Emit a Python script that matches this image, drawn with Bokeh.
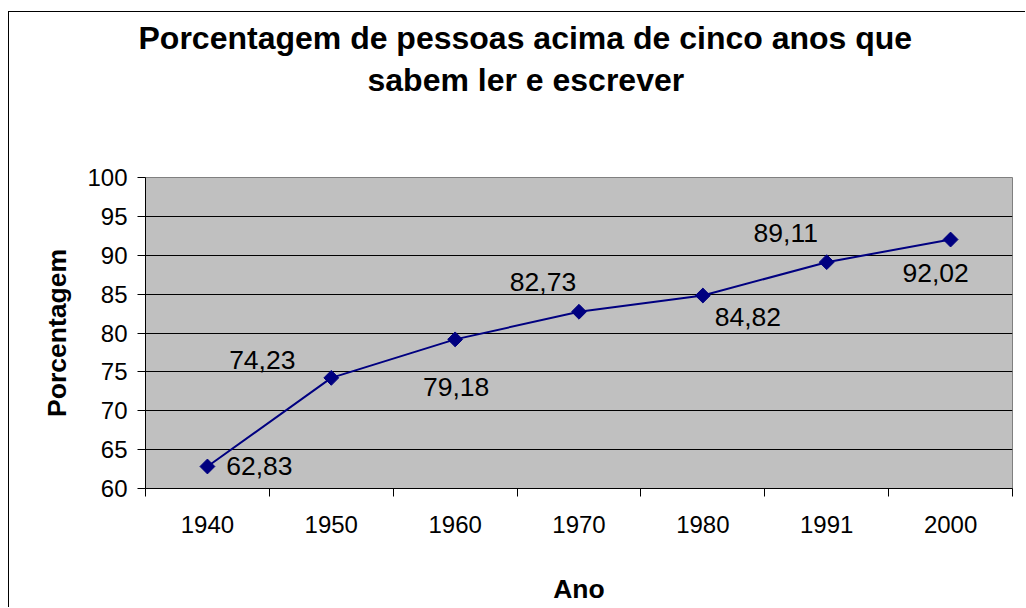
import math
from bokeh.plotting import figure
from bokeh.models import ColumnDataSource, Range1d, FixedTicker, Title
from bokeh.embed import file_html
from bokeh.resources import INLINE
from bokeh.core.properties import value

# ---- data ----
years = ["1940", "1950", "1960", "1970", "1980", "1991", "2000"]
percent = [62.83, 74.23, 79.18, 82.73, 84.82, 89.11, 92.02]
y_ticks = [60, 65, 70, 75, 80, 85, 90, 95, 100]
title_line1 = "Porcentagem de pessoas acima de cinco anos que"
title_line2 = "sabem ler e escrever"
x_title = "Ano"
y_title = "Porcentagem"

# label placement (pixels, relative to each point)
label_dx = [52, -69, 1, -36, 45, -41, -15]
label_dy = [0, -18, 48, -29.5, 21.5, -29.5, 33.5]

FONT = "Liberation Sans"
NAVY = "#000080"

xpos = [i + 0.5 for i in range(len(years))]
labels = [f"{v:.2f}".replace(".", ",") for v in percent]

src = ColumnDataSource(dict(x=xpos, y=percent, lab=labels, dx=label_dx, dy=label_dy))

p = figure(width=1017, height=596, output_backend="svg", toolbar_location=None,
           x_range=Range1d(0, len(years)), y_range=Range1d(y_ticks[0], y_ticks[-1]),
           min_border_left=136, min_border_right=14, min_border_top=165, min_border_bottom=120)
# outer chart border (left and top edges are visible in the window)
p.styles = {"margin-left": "8px", "margin-top": "11px",
            "border-left": "1px solid black", "border-top": "1px solid black"}

p.background_fill_color = "#C0C0C0"
p.border_fill_color = "white"
p.outline_line_color = "#808080"
p.outline_line_width = 1

# titles (first added is nearest to frame); centred over the whole chart, not the frame
p.add_layout(Title(text=" ", text_font=FONT, text_font_size="1px", standoff=77), "above")
p.add_layout(Title(text=title_line2, align="left", offset=222, text_font=FONT,
                   text_font_size="32px", text_font_style="bold", text_color="black",
                   standoff=0), "above")
p.add_layout(Title(text=title_line1, align="left", offset=-7, text_font=FONT,
                   text_font_size="32px", text_font_style="bold", text_color="black",
                   standoff=7), "above")

# y axis
ya = p.yaxis[0]
ya.ticker = FixedTicker(ticks=y_ticks)
ya.axis_line_color = "black"
ya.major_tick_line_color = "black"
ya.major_tick_out = 8
ya.major_tick_in = 0
ya.minor_tick_line_color = None
ya.major_label_text_font = FONT
ya.major_label_text_font_size = "24px"
ya.major_label_text_color = "black"
ya.major_label_standoff = 10
ya.axis_label = y_title
ya.axis_label_text_font = FONT
ya.axis_label_text_font_size = "26.5px"
ya.axis_label_text_font_style = "bold"
ya.axis_label_text_color = "black"
ya.axis_label_standoff = 12

# x axis: labels at category centres, ticks at category boundaries
xa = p.xaxis[0]
xa.ticker = FixedTicker(ticks=xpos, minor_ticks=list(range(len(years) + 1)))
xa.major_label_overrides = {x: y for x, y in zip(xpos, years)}
xa.axis_line_color = "black"
xa.major_tick_line_color = None
xa.major_tick_out = 8
xa.major_tick_in = 0
xa.minor_tick_line_color = "black"
xa.minor_tick_out = 8
xa.minor_tick_in = 0
xa.major_label_text_font = FONT
xa.major_label_text_font_size = "24px"
xa.major_label_text_color = "black"
xa.major_label_standoff = 19
xa.axis_label = x_title
xa.axis_label_text_font = FONT
xa.axis_label_text_font_size = "26.5px"
xa.axis_label_text_font_style = "bold"
xa.axis_label_text_color = "black"
xa.axis_label_standoff = 38

p.xgrid.grid_line_color = None
p.ygrid.grid_line_color = "black"
p.ygrid.grid_line_width = 1

p.line("x", "y", source=src, line_color=NAVY, line_width=2)
p.scatter("x", "y", source=src, marker="square", angle=math.pi / 4, size=10.5,
          fill_color=NAVY, line_color=NAVY)
p.text("x", "y", text="lab", source=src, x_offset="dx", y_offset="dy",
       text_font=value(FONT), text_font_size="26.5px", text_color="black",
       text_align="center", text_baseline="middle")

open("out.html", "w").write(file_html(p, INLINE))
